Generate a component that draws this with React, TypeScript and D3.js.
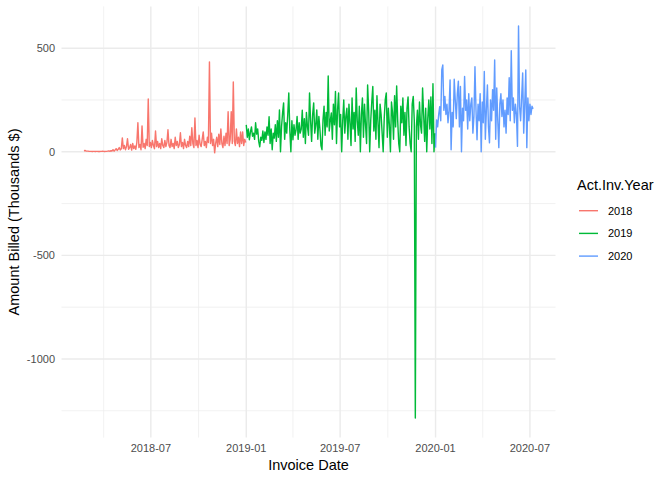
import React from "react";
import * as d3 from "d3";

const years = ["2018", "2019", "2020"];
const colors = ["#F8766D", "#00BA38", "#619CFF"];
const startDates = ["2018-02-22", "2019-01-01", "2020-01-01"];
const stepDays = 2;

const values2018 = [
  5, 6, 4, 3, 3, 2, 2, 2, 1, 2, 2, 1, 2, 2, 1, 1, 2, 2, 3, 2, 1, 2, 2, 3, 4, 2, 5, 3,
  10, 3, 8, 15, 6, 12, 20, 9, 14,
  67, 15, 30, 10, 25, 63, 12, 20, 35, 8, 40, 15, 28, 12, 45, 140, 20, 35, 10, 125, 22, 40, 15, 60, 30,
  255, 25, 45, 20, 55, 30, 15, 100, 25, 50, 20, 40, 15, 63, 30, 20, 55, 25, 45, 106, 30, 20, 60, 25,
  40, 15, 70, 30, 50, 20, 35, 92, 25, 45, 15, 60, 30, 20, 50, 25, 75, 30, 116, 40, 20, 163, 30, 55,
  20, 80, 35, 25, 60, 96, 30, 50, 20, 70, 45, 434, 40, 90, 30, 60, -5, 40, 70, 25, 85, 35, 110, 40,
  20, 75, 30, 90, 40, 193, 30, 60, 193, 40, 337, 50, 30, 110, 40, 70, 25, 95, 40, 96, 30, 60, 45,
];

const values2019 = [
  130, 70, 110, 58, 95, 120, 75, 90, 60, 140,
  85, 110, 50, 24, 70, 55, 100, 45, 96, 60,
  120, 80, 169, 40, 110, 10, 90, 66, 130, 50,
  150, 70, 202, 0, 120, 187, 236, 60, 140, 90,
  180, 284, 100, 0, 150, 58, 130, 80, 106, 170,
  60, 140, 90, 110, 200, 70, 160, 40, 190, 120,
  80, 284, 150, 50, 180, 236, 90, 130, 202, 60,
  170, 110, 30, 10, 154, 220, 80, 190, 120, 366,
  100, 150, 187, 60, 230, 130, 291, 40, 200, 284,
  120, 180, 0, 150, 250, 90, 170, 210, 60, 230,
  140, 30, 260, 110, 190, 50, 308, 150, 80, 220,
  0, 180, 260, 70, 230, 130, 40, 322, 200, 0,
  150, 240, 315, 100, 200, 60, 270, 140, 20, 230,
  180, 90, 0, 160, 250, 284, 70, 210, 130, 0,
  240, 190, 60, 270, 120, 318, 150, 40, 0, 220,
  140, 260, 80, 190, 30, 210, 265, 120, 40, 0,
  230, 267, 150, -1285, 120, 200, 60, 240, 130, 90,
  308, 180, 50, 210, 0, 160, 250, 110, 265, 40,
  328, 0, 90,
];

const values2020 = [
  20, 154, 120, 178, 218, 150, 395, 419, 200, 267,
  180, 230, 140, 200, 347, 10, 190, 120, 350, 250,
  160, 280, 341, 120, 315, 0, 210, 150, 363, 200,
  250, 110, 280, 150, 230, 260, 90, 170, 410, 200,
  58, 230, 150, 280, 0, 240, 140, 387, 60, 200,
  323, 120, 43, 250, 150, 300, 200, 443, 60, 308,
  150, 20, 230, 280, 170, 250, 120, 200, 90, 260,
  180, 357, 150, 488, 200, 260, 140, 230, 180, 26,
  607, 220, 150, 260, 380, 90, 230, 395, 20, 260,
  150, 230, 180, 220, 207,
];

const yTicks = [-1000, -500, 0, 500];
const yMinor = [-1250, -750, -250, 250];
const xTicks = ["2018-07-01", "2019-01-01", "2019-07-01", "2020-01-01", "2020-07-01"];
const xMinor = ["2018-04-01", "2018-10-01", "2019-04-01", "2019-10-01", "2020-04-01"];

const allValues = [values2018, values2019, values2020];

type Pt = { date: Date; value: number };

export default function App() {
  const W = 672;
  const H = 480;
  const left = 61.5;
  const right = 555.5;
  const top = 6.4;
  const bottom = 437.6;
  const parse = d3.utcParse("%Y-%m-%d");

  const series: Pt[][] = allValues.map((vals, k) => {
    const s = parse(startDates[k]) as Date;
    return vals.map((v, i) => ({ date: d3.utcDay.offset(s, i * stepDays), value: v }));
  });
  const flat = series.flat();
  const [dMin, dMax] = d3.extent(flat, (d) => d.date.getTime()) as [number, number];
  const [vMin, vMax] = d3.extent(flat, (d) => d.value) as [number, number];
  const dx = (dMax - dMin) * 0.05;
  const dy = (vMax - vMin) * 0.05;
  const x = d3.scaleUtc().domain([new Date(dMin - dx), new Date(dMax + dx)]).range([left, right]);
  const y = d3.scaleLinear().domain([vMin - dy, vMax + dy]).range([bottom, top]);
  const line = d3
    .line<Pt>()
    .x((d) => x(d.date))
    .y((d) => y(d.value));

  const font = "Arial, 'Liberation Sans', Helvetica, sans-serif";
  const grid = "#EBEBEB";

  return (
    <svg width={W} height={H} style={{ position: "absolute", left: 0, top: 0, background: "#fff" }} fontFamily={font}>
      {yMinor.map((v) => (
        <line key={"ym" + v} x1={left} x2={right} y1={y(v)} y2={y(v)} stroke={grid} strokeWidth={0.71} />
      ))}
      {xMinor.map((t) => {
        const xx = x(parse(t) as Date);
        return <line key={"xm" + t} x1={xx} x2={xx} y1={top} y2={bottom} stroke={grid} strokeWidth={0.71} />;
      })}
      {yTicks.map((v) => (
        <line key={"y" + v} x1={left} x2={right} y1={y(v)} y2={y(v)} stroke={grid} strokeWidth={1.42} />
      ))}
      {xTicks.map((t) => {
        const xx = x(parse(t) as Date);
        return <line key={"x" + t} x1={xx} x2={xx} y1={top} y2={bottom} stroke={grid} strokeWidth={1.42} />;
      })}
      {series.map((s, k) => (
        <path key={years[k]} d={line(s) || ""} fill="none" stroke={colors[k]} strokeWidth={1.42} strokeLinejoin="round" />
      ))}
      {yTicks.map((v) => (
        <text key={"yl" + v} x={55} y={y(v)} dy="0.35em" textAnchor="end" fontSize={11} fill="#4D4D4D">
          {String(v)}
        </text>
      ))}
      {xTicks.map((t) => {
        const dt = parse(t) as Date;
        return (
          <text key={"xl" + t} x={x(dt)} y={448} dy="0.35em" textAnchor="middle" fontSize={11} fill="#4D4D4D">
            {d3.utcFormat("%Y-%m")(dt)}
          </text>
        );
      })}
      <text x={(left + right) / 2} y={465} dy="0.35em" textAnchor="middle" fontSize={14.5} fill="#000">
        Invoice Date
      </text>
      <text
        transform={`translate(14,${(top + bottom) / 2}) rotate(-90)`}
        dy="0.35em"
        textAnchor="middle"
        fontSize={14.5}
        fill="#000"
      >
        Amount Billed (Thousands $)
      </text>
      <text x={577} y={185} dy="0.35em" fontSize={14.5} fill="#000">
        Act.Inv.Year
      </text>
      {years.map((yr, k) => {
        const ly = 210.7 + k * 22.7;
        return (
          <g key={"lg" + yr}>
            <line x1={579} x2={598} y1={ly} y2={ly} stroke={colors[k]} strokeWidth={1.42} />
            <text x={608} y={ly} dy="0.35em" fontSize={11} fill="#000">
              {yr}
            </text>
          </g>
        );
      })}
    </svg>
  );
}
